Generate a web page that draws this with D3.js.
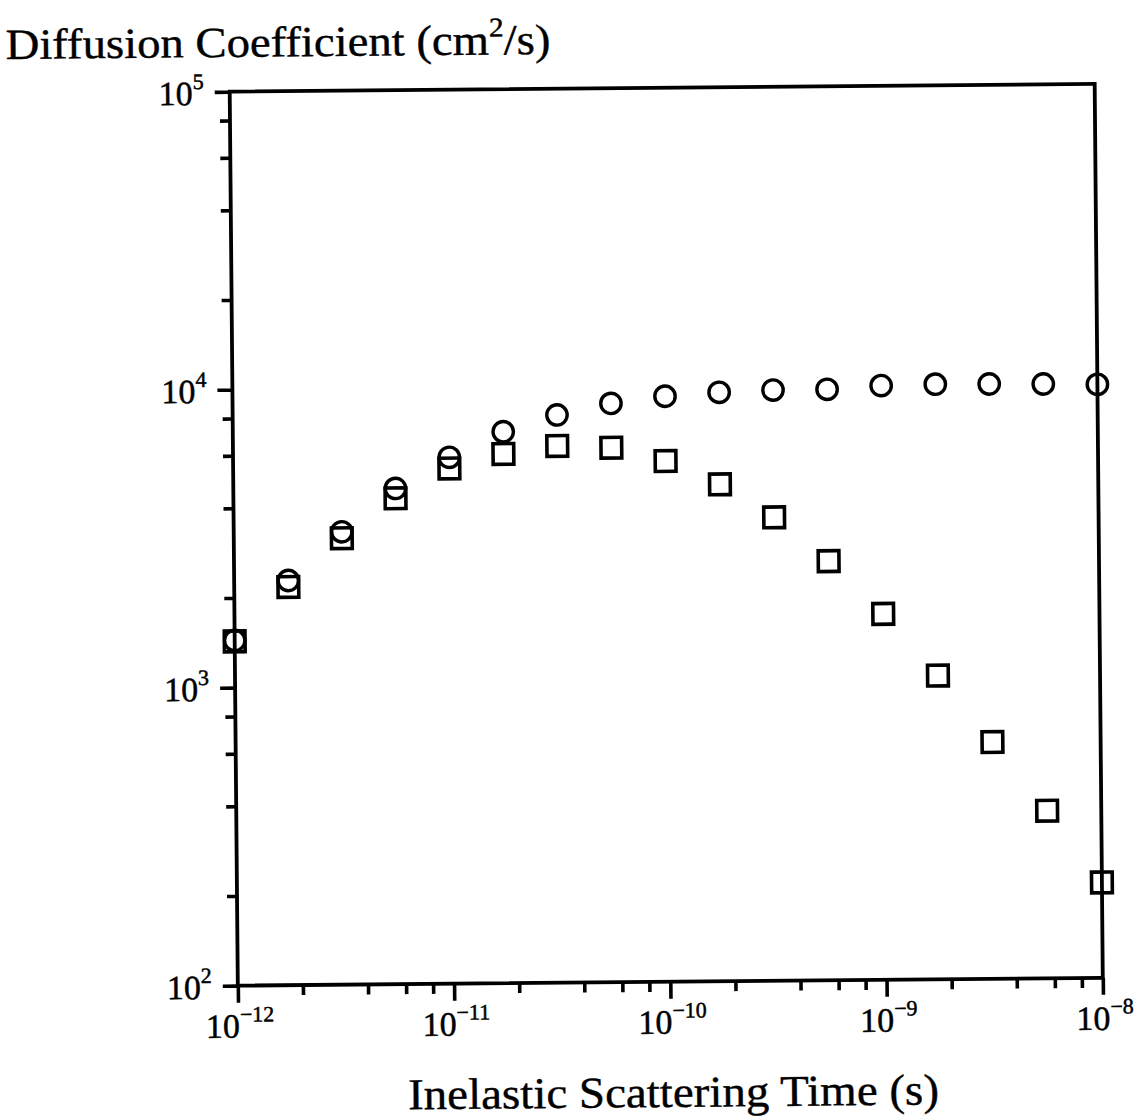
<!DOCTYPE html>
<html><head><meta charset="utf-8">
<script src="https://cdn.jsdelivr.net/npm/d3@7"></script>
<style>html,body{margin:0;padding:0;background:#fff;} svg{display:block;}</style>
</head><body>
<svg id="chart" width="1137" height="1120"></svg>
<script>
// ---- data ----
const tau = [1.0e-12, 1.78e-12, 3.16e-12, 5.62e-12, 1.0e-11, 1.78e-11, 3.16e-11, 5.62e-11,
             1.0e-10, 1.78e-10, 3.16e-10, 5.62e-10, 1.0e-9, 1.78e-9, 3.16e-9, 5.62e-9, 1.0e-8];
const diffCircle = [1440, 2280, 3310, 4610, 5840, 7090, 8040, 8760, 9220, 9470, 9600, 9620, 9860, 9930, 9910, 9870, 9810];
const diffSquare = [1430, 2170, 3150, 4270, 5360, 5970, 6330, 6220, 5590, 4650, 3590, 2550, 1690, 1045, 623, 365, 209];
const xMajorTicks = [1e-12, 1e-11, 1e-10, 1e-9, 1e-8];
const xMajorExponents = ["\u221212", "\u221211", "\u221210", "\u22129", "\u22128"];
const yMajorTicks = [1e2, 1e3, 1e4, 1e5];
const yMajorExponents = ["2", "3", "4", "5"];
const minorMultipliers = [2, 4, 6, 8];
const yTitleParts = ["Diffusion Coefficient (cm", "2", "/s)"];
const xTitleText = "Inelastic Scattering Time (s)";

// ---- layout ----
const plot = {left: 233.75, right: 1098.75, top: 87.75, bottom: 981.75};
const FONT = "'Liberation Serif', 'Times New Roman', serif";
const svg = d3.select("#chart");
svg.append("rect").attr("width", 1137).attr("height", 1120).attr("fill", "#fff");
const root = svg.append("g").attr("transform", "rotate(-0.52,666,535)");

const x = d3.scaleLog().domain([1e-12, 1e-8]).range([plot.left, plot.right]);
const y = d3.scaleLog().domain([1e2, 1e5]).range([plot.bottom, plot.top]);

const xMinor = xMajorTicks.slice(0, -1).flatMap(d => minorMultipliers.map(m => m * d));
const yMinor = yMajorTicks.slice(0, -1).flatMap(d => minorMultipliers.map(m => m * d));

function styleAxis(g) {
  g.select(".domain").remove();
  g.selectAll("line").attr("stroke", "#000").attr("stroke-width", 3.6);
}
root.append("g").attr("transform", `translate(0,${plot.bottom})`)
  .call(d3.axisBottom(x).tickValues(xMinor).tickSize(10).tickSizeOuter(0).tickFormat(""))
  .call(styleAxis);
root.append("g").attr("transform", `translate(0,${plot.bottom})`)
  .call(d3.axisBottom(x).tickValues(xMajorTicks).tickSize(17).tickSizeOuter(0).tickFormat(""))
  .call(styleAxis);
root.append("g").attr("transform", `translate(${plot.left},0)`)
  .call(d3.axisLeft(y).tickValues(yMinor).tickSize(10).tickSizeOuter(0).tickFormat(""))
  .call(styleAxis);
root.append("g").attr("transform", `translate(${plot.left},0)`)
  .call(d3.axisLeft(y).tickValues(yMajorTicks).tickSize(15).tickSizeOuter(0).tickFormat(""))
  .call(styleAxis);

// frame
root.append("rect")
  .attr("x", plot.left).attr("y", plot.top)
  .attr("width", plot.right - plot.left).attr("height", plot.bottom - plot.top)
  .attr("fill", "none").attr("stroke", "#000").attr("stroke-width", 3.8);

// tick labels
xMajorTicks.forEach((v, i) => {
  const t = root.append("text").attr("x", x(v) + 2).attr("y", plot.bottom + 52)
    .attr("text-anchor", "middle").attr("font-family", FONT).attr("fill", "#000")
    .attr("stroke", "#000").attr("stroke-width", 0.5);
  t.append("tspan").attr("font-size", 34).text("10");
  t.append("tspan").attr("font-size", 22).attr("dy", -16).text(xMajorExponents[i]);
});
yMajorTicks.forEach((v, i) => {
  const t = root.append("text").attr("x", plot.left - 26).attr("y", y(v) + 13)
    .attr("text-anchor", "end").attr("font-family", FONT).attr("fill", "#000")
    .attr("stroke", "#000").attr("stroke-width", 0.5);
  t.append("tspan").attr("font-size", 34).text("10");
  t.append("tspan").attr("font-size", 22).attr("dy", -16).text(yMajorExponents[i]);
});

// titles
function fitTitle(sel, x0, y0, targetW) {
  const w = sel.node().getBBox().width;
  sel.attr("transform", `translate(${x0},${y0}) scale(${targetW / w},1)`);
}
const yTitle = root.append("text").attr("x", 0).attr("y", 0)
  .attr("font-family", FONT).attr("font-size", 43).attr("fill", "#000")
  .attr("stroke", "#000").attr("stroke-width", 0.4);
yTitle.append("tspan").text(yTitleParts[0]);
yTitle.append("tspan").attr("font-size", 27).attr("dy", -18).text(yTitleParts[1]);
yTitle.append("tspan").attr("dy", 18).text(yTitleParts[2]);
fitTitle(yTitle, 10, 53, 545);

const xTitle = root.append("text").attr("x", 0).attr("y", 0)
  .attr("font-family", FONT).attr("font-size", 44).attr("fill", "#000")
  .attr("stroke", "#000").attr("stroke-width", 0.4).text(xTitleText);
fitTitle(xTitle, 403, 1107, 531);

// markers
const pts = root.append("g").attr("fill", "none").attr("stroke", "#000");
pts.selectAll("circle.c").data(tau).join("circle").attr("class", "c")
  .attr("cx", d => x(d)).attr("cy", (d, i) => y(diffCircle[i]))
  .attr("r", 10.2).attr("stroke-width", 3.4);
const S = 20.7;
pts.selectAll("rect.s").data(tau).join("rect").attr("class", "s")
  .attr("x", d => x(d) - S / 2).attr("y", (d, i) => y(diffSquare[i]) - S / 2)
  .attr("width", S).attr("height", S).attr("stroke-width", 3.6);
</script>
</body></html>
